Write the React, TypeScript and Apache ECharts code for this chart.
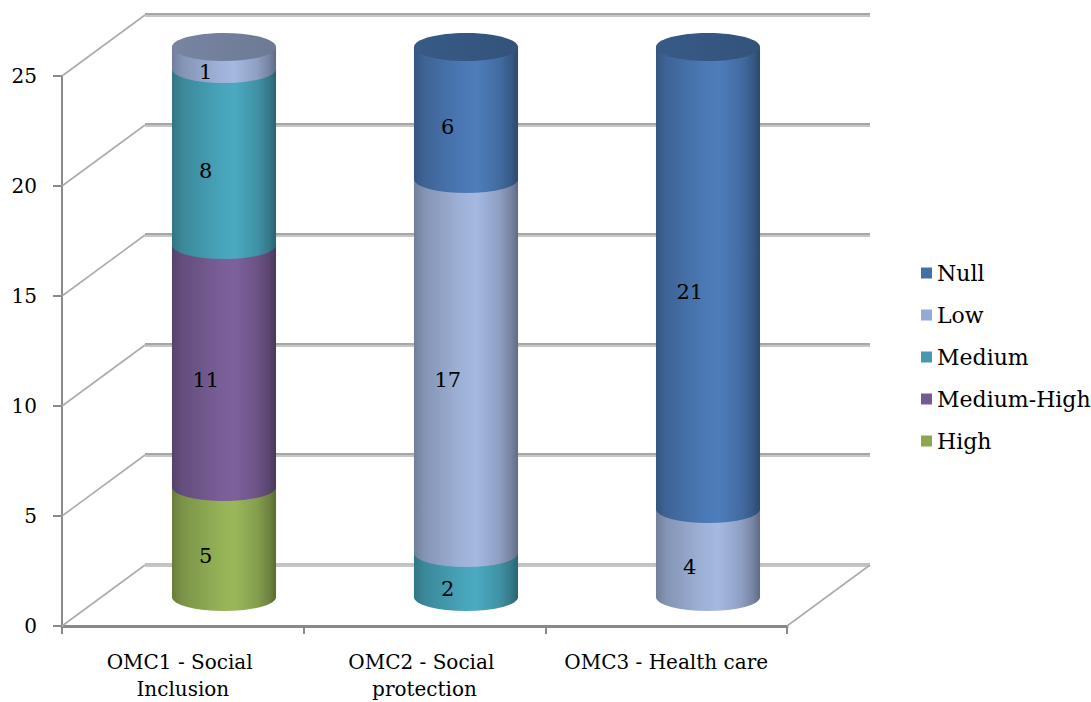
import React, { useEffect, useRef } from "react";
import * as echarts from "echarts";

// Categories along the floor of the 3D chart
const categories = ["OMC1 - Social Inclusion", "OMC2 - Social protection", "OMC3 - Health care"];

// Stack levels, listed from the bottom of each cylinder to the top
const levelNames = ["High", "Medium-High", "Medium", "Low", "Null"];
const highValues = [5, 0, 0];
const mediumHighValues = [11, 0, 0];
const mediumValues = [8, 2, 0];
const lowValues = [1, 17, 4];
const nullValues = [0, 6, 21];

// Legend order (top to bottom)
const legendOrder = ["Null", "Low", "Medium", "Medium-High", "High"];

// Value axis ticks
const yTickValues = [0, 5, 10, 15, 20, 25];

const levelValues = [highValues, mediumHighValues, mediumValues, lowValues, nullValues];

// Colours: flat legend swatch + lightest body tone of each cylinder slice
const legendColors: Record<string, string> = {
  Null: "#4470a8",
  Low: "#94aad6",
  Medium: "#4599ae",
  "Medium-High": "#745b96",
  High: "#8da650",
};
const bodyColors: Record<string, string> = {
  Null: "#4d7dbb",
  Low: "#a5b9e1",
  Medium: "#4aaac0",
  "Medium-High": "#7d619c",
  High: "#9ab85a",
};

const FONT = "DejaVu Serif";
// Depth of the box (back wall offset from the front plane)
const DEPTH_DX = 83;
const DEPTH_DY = -61;

function shade(hex: string, f: number): string {
  const n = parseInt(hex.slice(1), 16);
  const c = (v: number) => Math.max(0, Math.min(255, Math.round(v * f)));
  return `rgb(${c((n >> 16) & 255)},${c((n >> 8) & 255)},${c(n & 255)})`;
}

function bodyGradient(hex: string) {
  return new echarts.graphic.LinearGradient(0, 0, 1, 0, [
    { offset: 0, color: shade(hex, 0.68) },
    { offset: 0.1, color: shade(hex, 0.8) },
    { offset: 0.45, color: shade(hex, 0.96) },
    { offset: 0.6, color: hex },
    { offset: 0.82, color: shade(hex, 0.86) },
    { offset: 0.93, color: shade(hex, 0.72) },
    { offset: 1, color: shade(hex, 0.58) },
  ]);
}

function capGradient(hex: string) {
  return new echarts.graphic.LinearGradient(0, 0, 1, 0, [
    { offset: 0, color: shade(hex, 0.72) },
    { offset: 1, color: shade(hex, 0.66) },
  ]);
}

// Build stacked [category, from, to, value, isTopSlice] rows for each level
function buildStackRows() {
  const rows: number[][][] = levelNames.map(() => []);
  categories.forEach((_, ci) => {
    let base = 0;
    let topLevel = -1;
    levelValues.forEach((vals, li) => {
      if (vals[ci] > 0) topLevel = li;
    });
    levelValues.forEach((vals, li) => {
      const v = vals[ci];
      rows[li].push([ci, base, base + v, v, li === topLevel ? 1 : 0]);
      base += v;
    });
  });
  return rows;
}

function cylinderRenderer(name: string) {
  const base = bodyColors[name];
  return (params: any, api: any) => {
    const cat = api.value(0);
    const lo = api.value(1);
    const hi = api.value(2);
    const val = api.value(3);
    const isTop = api.value(4);
    if (!(hi > lo)) return null;
    const bot = api.coord([cat, lo]);
    const top = api.coord([cat, hi]);
    const r = api.size([1, 0])[0] * 0.215;
    const ry = r * 0.27;
    const cx = bot[0];
    const yB = bot[1];
    const yT = top[1];
    const children: any[] = [
      {
        type: "path",
        shape: {
          pathData: `M${cx - r},${yT} L${cx + r},${yT} L${cx + r},${yB} A${r},${ry} 0 0 1 ${cx - r},${yB} Z`,
        },
        style: { fill: bodyGradient(base) },
      },
    ];
    if (isTop) {
      children.push({
        type: "ellipse",
        shape: { cx, cy: yT, rx: r, ry },
        style: { fill: capGradient(base) },
      });
    }
    children.push({
      type: "text",
      x: cx - r * 0.35,
      y: (yT + yB) / 2 + ry,
      style: {
        text: String(val),
        fill: "#000",
        fontSize: 21,
        fontFamily: FONT,
        align: "center",
        verticalAlign: "middle",
      },
    });
    return { type: "group", children };
  };
}

function wallRenderer(params: any, api: any) {
  const v = api.value(1);
  const cs = params.coordSys;
  const y = api.coord([0, v])[1];
  const x0 = cs.x;
  const x1 = cs.x + cs.width;
  const by = y + DEPTH_DY;
  const children: any[] = [
    {
      type: "line",
      shape: { x1: x0, y1: y, x2: x0 + DEPTH_DX, y2: by },
      style: { stroke: "#acacac", lineWidth: 1.6 },
    },
    {
      type: "line",
      shape: { x1: x0 + DEPTH_DX, y1: by - 1, x2: x1 + DEPTH_DX, y2: by - 1 },
      style: { stroke: v === 0 ? "#c2c2c2" : "#a6a6a6", lineWidth: 2 },
    },
    {
      type: "line",
      shape: { x1: x0 + DEPTH_DX, y1: by + 1, x2: x1 + DEPTH_DX, y2: by + 1 },
      style: { stroke: "#c6c6c6", lineWidth: 2 },
    },
  ];
  if (v === 0) {
    children.push({
      type: "line",
      shape: { x1: x1, y1: y, x2: x1 + DEPTH_DX, y2: by },
      style: { stroke: "#acacac", lineWidth: 1.6 },
    });
  }
  return { type: "group", children };
}

function buildOption() {
  const stackRows = buildStackRows();
  const cylinderSeries = levelNames.map((name, li) => ({
    type: "custom",
    name,
    xAxisIndex: 1,
    yAxisIndex: 1,
    z: 3 + li,
    clip: false,
    silent: true,
    encode: { x: 0, y: [1, 2] },
    itemStyle: { color: legendColors[name] },
    renderItem: cylinderRenderer(name),
    data: stackRows[li],
  }));

  return {
    animation: false,
    backgroundColor: "#ffffff",
    textStyle: { fontFamily: FONT },
    legend: {
      orient: "vertical",
      left: 916,
      top: 255,
      icon: "rect",
      itemWidth: 11,
      itemHeight: 11,
      itemGap: 16,
      selectedMode: false,
      data: legendOrder,
      textStyle: { fontFamily: FONT, fontSize: 22, color: "#000", lineHeight: 26 },
    },
    grid: [
      { left: 62, top: 76, width: 725, height: 552, containLabel: false },
      { left: 103, top: 47, width: 726, height: 550, containLabel: false },
    ],
    xAxis: [
      {
        type: "category",
        gridIndex: 0,
        data: categories,
        axisLine: { show: true, lineStyle: { color: "#888888", width: 3 } },
        axisTick: { show: true, length: 8, lineStyle: { color: "#888888", width: 2 } },
        axisLabel: {
          margin: 22,
          fontFamily: FONT,
          fontSize: 20,
          color: "#000",
          lineHeight: 27,
          width: 225,
          overflow: "break",
          interval: 0,
        },
        splitLine: { show: false },
      },
      {
        type: "category",
        gridIndex: 1,
        data: categories,
        show: false,
      },
    ],
    yAxis: [
      {
        type: "value",
        gridIndex: 0,
        min: yTickValues[0],
        max: yTickValues[yTickValues.length - 1],
        interval: yTickValues[1] - yTickValues[0],
        axisLine: { show: true, lineStyle: { color: "#8a8a8a", width: 2 } },
        axisTick: { show: true, length: 9, lineStyle: { color: "#8a8a8a", width: 2 } },
        axisLabel: { margin: 25, fontFamily: FONT, fontSize: 20, color: "#000" },
        splitLine: { show: false },
      },
      {
        type: "value",
        gridIndex: 1,
        min: yTickValues[0],
        max: yTickValues[yTickValues.length - 1],
        show: false,
        splitLine: { show: false },
      },
    ],
    series: [
      {
        type: "custom",
        name: "walls",
        xAxisIndex: 0,
        yAxisIndex: 0,
        z: 1,
        clip: false,
        silent: true,
        encode: { x: 0, y: 1 },
        renderItem: wallRenderer,
        data: yTickValues.map((v) => [0, v]),
      },
      ...cylinderSeries,
    ],
  };
}

export default function App() {
  const ref = useRef<HTMLDivElement>(null);
  useEffect(() => {
    document.body.style.margin = "0";
    document.body.style.overflow = "hidden";
    const chart = echarts.init(ref.current as HTMLDivElement, null, { renderer: "svg" });
    chart.setOption(buildOption() as any);
    return () => chart.dispose();
  }, []);
  return <div ref={ref} style={{ width: 1091, height: 702 }} />;
}
